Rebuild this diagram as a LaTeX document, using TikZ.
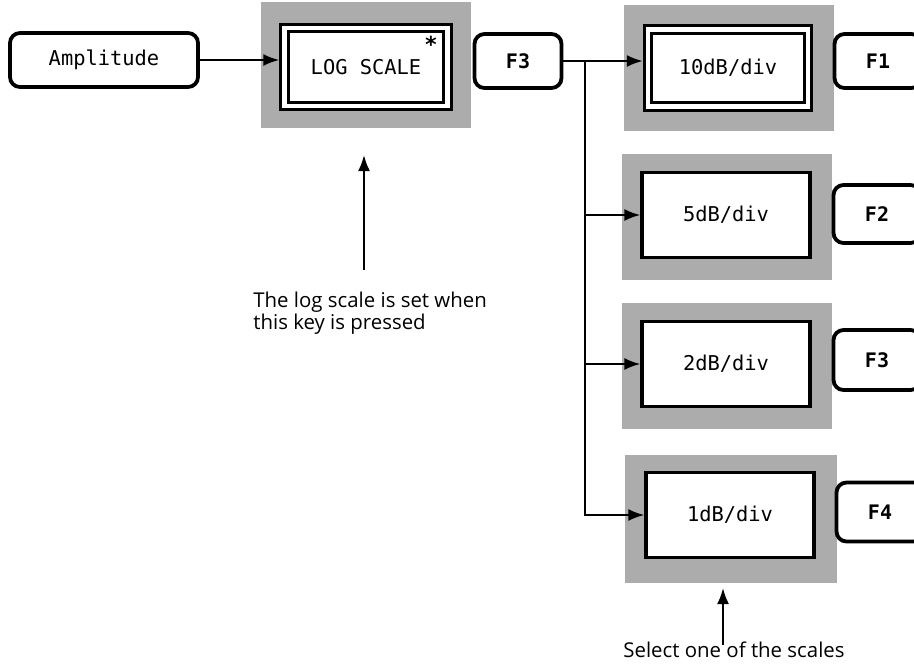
\documentclass[tikz,border=0pt]{standalone}
\usepackage{fontspec}
\setmainfont{Open Sans}
\setmonofont{DejaVu Sans Mono}
\usetikzlibrary{arrows.meta,positioning,calc}
\definecolor{shadegray}{RGB}{172,172,172}
\tikzset{
  keybox/.style={draw,rounded corners=5pt,line width=1.9pt,inner sep=0pt,
    minimum width=43.5pt,minimum height=27pt,font=\ttfamily\bfseries\fontsize{10}{12}\selectfont},
  shadebox/.style={fill=shadegray,inner sep=0pt,minimum width=105pt,minimum height=63pt},
  menubox/.style={draw,fill=white,line width=1.6pt,inner sep=0pt,
    minimum width=84pt,minimum height=42.5pt,font=\ttfamily\fontsize{10.2}{12}\selectfont},
  framebox/.style={menubox,double,line width=1.5pt,double distance=2.3pt,outer sep=2.6pt,
    minimum width=80pt,minimum height=38.5pt},
  arr/.style={line width=1.1pt,-{Latex[length=8pt,width=6pt]}},
  note/.style={align=left,inner sep=0pt,font=\fontsize{10.2}{10.8}\selectfont}
}
\begin{document}
\begin{tikzpicture}[x=0.5pt,y=-0.5pt]
  \useasboundingbox (0,0) rectangle (914,665);
  % soft key chain
  \node[keybox,minimum width=94pt,font=\ttfamily\fontsize{10.2}{12}\selectfont] (amp) at (104,60) {Amplitude};
  \node[shadebox] (logshade) at (366,65) {};
  \node[framebox,minimum width=81.5pt,minimum height=39pt] (logbox) at (366,67) {LOG SCALE};
  \node[font=\ttfamily\bfseries\fontsize{11}{12}\selectfont,inner sep=0pt] (logstar) at (431,44) {*};
  \node[keybox] (fthree) at (518,61) {F3};
  % scale menu
  \node[shadebox] (tenshade) at (729,68) {};
  \node[framebox] (tenbox) at (728,68) {10dB/div};
  \node[keybox] (fone) at (878,61) {F1};
  \node[shadebox] (fiveshade) at (727,217) {};
  \node[menubox] (fivebox) at (726,215) {5dB/div};
  \node[keybox,minimum height=29pt] (ftwo) at (877,214) {F2};
  \node[shadebox] (twoshade) at (727,366) {};
  \node[menubox] (twobox) at (726,364) {2dB/div};
  \node[keybox,minimum height=30pt] (fthreeb) at (877,360) {F3};
  \node[shadebox,minimum width=106pt,minimum height=64pt] (oneshade) at (731,519) {};
  \node[menubox] (onebox) at (730,515) {1dB/div};
  \node[keybox,minimum height=29.5pt] (ffour) at (880,512) {F4};
  % connectors
  \draw[arr] (amp.east) -- (logbox.west |- amp.east);
  \coordinate (split) at (585,60);
  \draw[arr] (fthree.east) -- (tenbox.west |- fthree.east);
  \draw[arr] (split) |- (onebox.west);
  \draw[arr] (split |- fivebox.west) -- (fivebox.west);
  \draw[arr] (split |- twobox.west) -- (twobox.west);
  % notes
  \node[note,anchor=north west] (lognote) at (253,292) {The log scale is set when\\this key is pressed};
  \coordinate (logtail) at (364,270);
  \coordinate (loghead) at (364,155);
  \draw[arr] (logtail) -- (loghead);
  \node[note] (selnote) at (734,650) {Select one of the scales};
  \coordinate (seltail) at (723,645);
  \coordinate (selhead) at (723,588);
  \draw[arr] (seltail) -- (selhead);
\end{tikzpicture}
\end{document}
